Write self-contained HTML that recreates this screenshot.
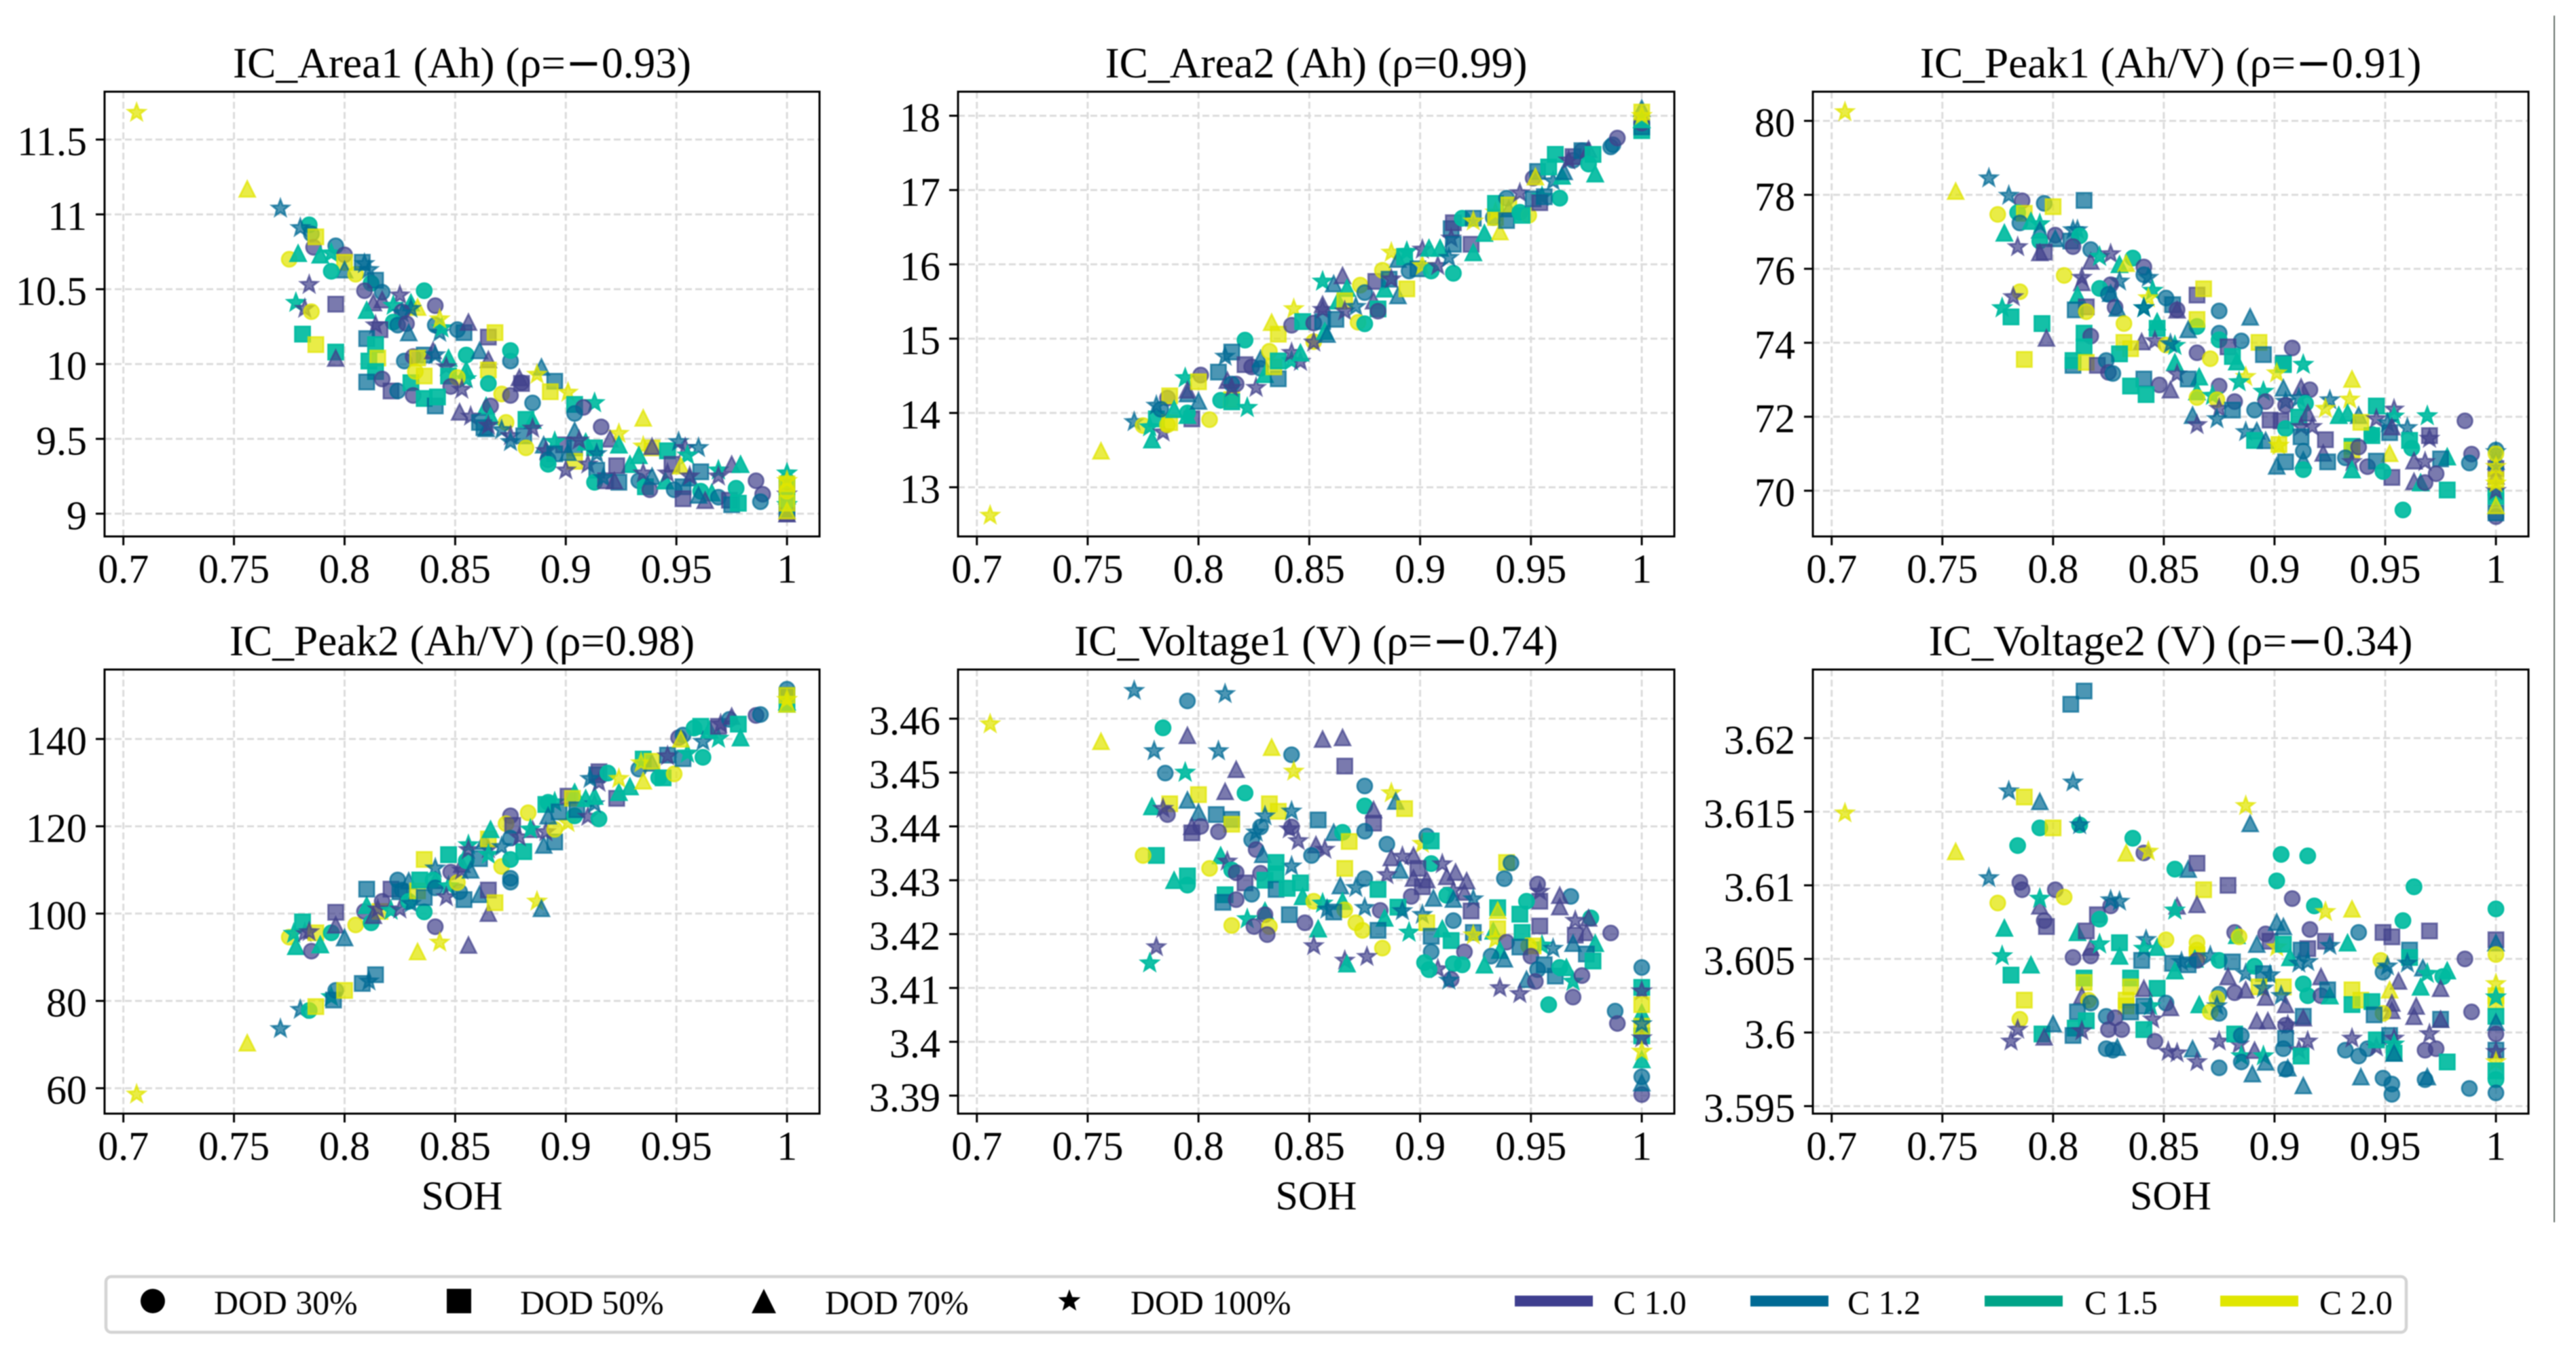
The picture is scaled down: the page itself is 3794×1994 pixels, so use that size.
<!DOCTYPE html>
<html lang="en">
<head>
<meta charset="utf-8">
<title>IC curve features vs SOH</title>
<style>
html,body{margin:0;padding:0;background:#fff;width:3794px;height:1994px;overflow:hidden}
svg{display:block;filter:blur(.8px)}
text{font-family:"Liberation Serif","Noto Serif CJK SC",serif;fill:#000}
.minus{font-family:"DejaVu Sans",sans-serif}
</style>
</head>
<body>
<svg id="fig" xmlns="http://www.w3.org/2000/svg" width="3794" height="1994" viewBox="0 0 3794 1994">
<rect x="0" y="0" width="3794" height="1994" fill="#fff"/>
<line x1="3762" y1="23" x2="3762" y2="1800" stroke="#3f4a44" stroke-width="1.6"/>
<g id="panels"></g>
<g font-size="63.4" text-anchor="middle">
<text x="680.5" y="114">IC_Area1 (Ah) (ρ=<tspan class="minus">−</tspan>0.93)</text>
<text x="1938.5" y="114">IC_Area2 (Ah) (ρ=0.99)</text>
<text x="3197" y="114">IC_Peak1 (Ah/V) (ρ=<tspan class="minus">−</tspan>0.91)</text>
<text x="680.5" y="965">IC_Peak2 (Ah/V) (ρ=0.98)</text>
<text x="1938.5" y="965">IC_Voltage1 (V) (ρ=<tspan class="minus">−</tspan>0.74)</text>
<text x="3197" y="965">IC_Voltage2 (V) (ρ=<tspan class="minus">−</tspan>0.34)</text>
</g>
<g font-size="60" text-anchor="middle">
<text x="680.5" y="1781">SOH</text>
<text x="1938.5" y="1781">SOH</text>
<text x="3197" y="1781">SOH</text>
</g>
<g>
<rect x="156" y="1880" width="3388" height="82" rx="8" fill="#fff" stroke="#d4d4d4" stroke-width="4.5"/>
<g id="legend-markers"></g>
<g font-size="49.8">
<text x="315" y="1935">DOD 30%</text>
<text x="766" y="1935">DOD 50%</text>
<text x="1215" y="1935">DOD 70%</text>
<text x="1665" y="1935">DOD 100%</text>
<text x="2376" y="1935">C 1.0</text>
<text x="2721" y="1935">C 1.2</text>
<text x="3070" y="1935">C 1.5</text>
<text x="3416" y="1935">C 2.0</text>
</g>
<rect x="2231" y="1908" width="115" height="16" fill="#3f3f8f"/>
<rect x="2578" y="1908" width="115" height="16" fill="#006a94"/>
<rect x="2923" y="1908" width="115" height="16" fill="#00a488"/>
<rect x="3270" y="1908" width="115" height="16" fill="#e0e600"/>
</g>
</svg>
<script>
// Encoding categories: index 2 of each row = C rate, index 3 = DOD
const rateLabels = ['C 1.0','C 1.2','C 1.5','C 2.0'];
const dodLabels = ['DOD 30%','DOD 50%','DOD 70%','DOD 100%'];
const xTickValues = [0.7,0.75,0.8,0.85,0.9,0.95,1];
const xTickLabels = ['0.7','0.75','0.8','0.85','0.9','0.95','1'];
const area1Ticks = [9,9.5,10,10.5,11,11.5];
const area1TickLabels = ['9','9.5','10','10.5','11','11.5'];
const area2Ticks = [13,14,15,16,17,18];
const area2TickLabels = ['13','14','15','16','17','18'];
const peak1Ticks = [70,72,74,76,78,80];
const peak1TickLabels = ['70','72','74','76','78','80'];
const peak2Ticks = [60,80,100,120,140];
const peak2TickLabels = ['60','80','100','120','140'];
const volt1Ticks = [3.39,3.4,3.41,3.42,3.43,3.44,3.45,3.46];
const volt1TickLabels = ['3.39','3.4','3.41','3.42','3.43','3.44','3.45','3.46'];
const volt2Ticks = [3.595,3.6,3.605,3.61,3.615,3.62];
const volt2TickLabels = ['3.595','3.6','3.605','3.61','3.615','3.62'];

// [SOH, feature value, rate index, DOD index]
const icArea1 = [
[.706,11.68,3,3],[.756,11.17,3,2],[.771,11.04,1,3],[.784,10.93,2,0],[.785,10.87,1,0],[.780,10.91,1,3],[.786,10.78,0,0],[.787,10.85,3,1],[.775,10.70,3,0],[.779,10.74,2,2],[.789,10.73,2,2],[.796,10.79,1,0],[.794,10.74,2,3],[.800,10.73,0,0],[.800,10.68,3,1],[.800,10.63,1,2],[.805,10.60,3,0],[.794,10.62,2,0],[.808,10.68,1,1],[.809,10.67,1,3],[.811,10.63,1,3],[.812,10.54,2,0],[.814,10.56,1,1],[.809,10.49,0,0],[.817,10.48,1,0],[.836,10.49,2,0],[.825,10.46,0,3],[.813,10.41,0,2],[.817,10.43,0,2],[.822,10.39,2,3],[.830,10.41,2,2],[.833,10.38,3,2],[.830,10.37,1,3],[.841,10.39,0,0],[.784,10.53,0,3],[.778,10.41,2,3],[.782,10.37,0,3],[.785,10.35,3,0],[.796,10.40,0,1],[.810,10.36,2,2],[.826,10.35,0,0],[.826,10.34,1,3],[.822,10.28,2,0],[.824,10.26,1,0],[.828,10.27,0,0],[.829,10.21,1,2],[.841,10.26,1,0],[.843,10.21,1,3],[.844,10.24,2,3],[.843,10.30,3,3],[.851,10.23,1,0],[.854,10.21,1,1],[.856,10.28,0,2],[.865,10.18,0,1],[.868,10.21,3,1],[.814,10.26,0,3],[.816,10.23,0,1],[.810,10.17,1,1],[.814,10.13,2,1],[.781,10.20,2,1],[.787,10.13,3,1],[.796,10.08,2,1],[.796,10.04,0,2],[.811,10.02,2,1],[.815,10.04,3,1],[.814,9.95,2,1],[.810,9.88,1,1],[.817,9.90,0,0],[.821,9.82,0,1],[.824,9.82,1,0],[.830,9.875,2,1],[.827,10.02,1,0],[.831,10.05,0,0],[.836,10.06,1,1],[.833,10.04,3,1],[.832,9.95,3,0],[.836,9.92,3,1],[.840,10.09,0,2],[.841,10.06,1,3],[.847,10.04,2,2],[.846,9.98,0,3],[.855,9.96,2,2],[.855,9.90,2,3],[.855,10.06,2,0],[.861,10.09,1,2],[.865,10.03,0,2],[.865,9.96,3,1],[.847,9.92,2,1],[.851,9.91,3,0],[.848,9.85,0,0],[.853,9.83,0,3],[.865,9.87,2,0],[.875,10.02,1,0],[.875,10.09,2,0],[.889,9.98,1,2],[.887,9.93,3,3],[.895,9.885,1,1],[.880,9.875,0,0],[.879,9.91,0,2],[.880,9.87,0,1],[.893,9.815,3,1],[.901,9.81,3,3],[.871,9.80,3,0],[.875,9.79,0,0],[.831,9.79,0,0],[.836,9.77,2,1],[.841,9.72,1,1],[.842,9.78,2,1],[.904,9.73,2,1],[.913,9.74,2,3],[.908,9.71,0,0],[.885,9.74,1,0],[.904,9.67,1,0],[.864,9.72,2,2],[.866,9.72,0,0],[.852,9.68,0,2],[.857,9.65,0,3],[.861,9.61,1,1],[.866,9.65,2,2],[.873,9.61,3,0],[.882,9.63,2,1],[.885,9.625,2,2],[.863,9.575,1,1],[.871,9.56,1,3],[.864,9.57,1,2],[.865,9.59,0,3],[.875,9.52,0,3],[.875,9.48,1,3],[.881,9.52,1,1],[.885,9.57,0,3],[.916,9.58,0,0],[.935,9.64,3,2],[.904,9.555,1,2],[.924,9.535,3,3],[.920,9.50,0,2],[.924,9.46,2,2],[.935,9.45,3,3],[.939,9.44,3,1],[.939,9.45,0,2],[.946,9.42,2,1],[.951,9.48,1,3],[.954,9.44,0,3],[.960,9.44,1,3],[.955,9.39,2,3],[.933,9.39,2,2],[.929,9.33,2,2],[.923,9.32,0,1],[.882,9.44,3,0],[.899,9.46,0,1],[.904,9.44,1,1],[.895,9.48,2,3],[.890,9.46,1,2],[.891,9.42,0,3],[.895,9.40,1,1],[.892,9.36,1,0],[.892,9.33,2,0],[.904,9.35,3,1],[.900,9.29,0,3],[.909,9.48,2,2],[.913,9.44,2,1],[.910,9.33,0,3],[.914,9.40,1,3],[.914,9.29,1,1],[.906,9.49,0,3],[.901,9.41,1,2],[.913,9.21,2,0],[.918,9.22,0,1],[.924,9.21,1,1],[.917,9.24,1,3],[.922,9.22,0,2],[.933,9.22,1,0],[.936,9.18,2,1],[.935,9.27,0,3],[.938,9.16,0,0],[.939,9.25,1,2],[.945,9.22,2,2],[.946,9.27,0,3],[.948,9.33,0,1],[.952,9.32,3,2],[.961,9.28,1,1],[.949,9.16,1,0],[.953,9.18,1,1],[.953,9.10,0,1],[.956,9.24,1,2],[.956,9.25,0,3],[.961,9.15,2,0],[.966,9.14,2,2],[.963,9.09,0,2],[.960,9.125,1,2],[.969,9.11,1,0],[.974,9.09,0,1],[.975,9.06,1,1],[.978,9.07,2,1],[.977,9.17,2,0],[.969,9.29,2,3],[.969,9.25,0,3],[.975,9.33,0,2],[.979,9.33,2,2],[.986,9.22,0,0],[.989,9.13,0,0],[.988,9.08,1,0],
[1,9.0,0,1],[1,9.0,0,2],[1,9.05,0,0],[1,9.13,0,3],[1,9.03,1,1],[1,9.1,1,0],[1,9.12,1,2],[1,9.18,1,1],[1,9.27,2,3],[1,9.22,2,0],[1,9.1,2,1],[1,9.06,2,3],[1,9.15,3,0],[1,9.07,3,1],[1,9.20,3,1],[1,9.22,3,3],[1,9.02,3,2]];

const icArea2 = [
[.706,12.62,3,3],[.756,13.49,3,2],[.771,13.88,1,3],[.775,13.83,3,0],[.778,13.81,2,3],[.779,13.64,2,2],[.784,13.74,0,3],[.781,13.92,2,1],[.781,14.10,1,3],[.786,14.20,0,0],[.787,14.23,3,1],[.787,13.87,3,1],[.786,13.84,3,0],[.783,14.05,1,0],[.789,14.05,2,2],[.797,13.92,0,1],[.805,13.91,3,0],[.794,14.47,2,3],[.795,14.26,1,2],[.795,14.31,0,2],[.795,14.0,2,0],[.795,13.97,2,2],[.800,14.16,1,2],[.801,14.51,0,0],[.800,14.42,3,1],[.810,14.17,2,0],[.809,14.55,1,1],[.815,14.18,3,1],[.815,14.15,2,1],[.822,14.07,2,3],[.813,14.44,0,2],[.817,14.39,0,0],[.815,14.39,1,0],[.815,14.34,0,3],[.826,14.34,0,3],[.821,14.98,2,0],[.812,14.76,1,3],[.815,14.82,1,1],[.821,14.65,0,1],[.824,14.62,0,0],[.828,14.73,1,2],[.828,14.60,1,0],[.830,14.52,2,2],[.836,14.46,1,1],[.834,14.62,3,1],[.832,14.83,3,0],[.836,14.70,2,1],[.842,14.70,2,3],[.833,15.22,3,2],[.836,15.06,3,1],[.842,15.18,0,0],[.842,14.81,0,3],[.846,14.69,0,3],[.846,14.81,2,2],[.852,14.96,3,0],[.852,14.95,0,3],[.843,15.40,3,3],[.847,15.23,2,1],[.852,15.21,0,0],[.856,15.23,1,1],[.857,15.10,2,2],[.858,15.06,1,2],[.856,15.39,0,3],[.856,15.46,0,2],[.862,15.26,1,1],[.856,15.77,2,3],[.861,15.74,1,2],[.865,15.85,0,2],[.867,15.68,2,2],[.863,15.51,2,2],[.866,15.51,3,1],[.866,15.37,0,3],[.871,15.43,1,3],[.872,15.22,3,0],[.875,15.20,2,0],[.873,15.72,3,0],[.875,15.62,1,0],[.879,15.51,0,2],[.881,15.40,2,1],[.881,15.37,0,0],[.880,15.77,0,1],[.883,15.92,3,0],[.884,15.67,2,2],[.886,15.80,1,1],[.887,15.80,0,3],[.890,15.58,1,2],[.894,15.67,3,1],[.887,16.16,3,3],[.894,16.17,2,3],[.890,16.07,1,2],[.893,16.1,2,1],[.895,15.91,1,0],[.899,15.94,1,1],[.901,15.98,3,3],[.901,16.2,0,3],[.905,15.91,2,0],[.915,15.88,2,0],[.908,15.98,0,3],[.904,16.22,2,2],[.909,16.22,2,2],[.913,16.09,1,3],[.914,16.48,1,1],[.915,16.56,0,1],[.914,16.35,0,3],[.915,16.27,1,1],[.919,16.62,2,0],[.924,16.62,1,1],[.923,16.27,0,1],[.924,16.16,2,2],[.924,16.58,3,3],[.929,16.42,2,2],[.936,16.44,3,2],[.933,16.63,1,0],[.934,16.63,3,1],[.934,16.70,3,3],[.934,16.82,2,1],[.939,16.89,1,0],[.940,16.75,1,2],[.940,16.80,3,1],[.939,16.59,1,1],[.945,16.70,2,0],[.945,16.96,0,3],[.949,16.66,3,0],[.946,16.66,2,1],[.951,16.88,1,1],[.951,17.16,0,0],[.953,17.25,1,1],[.952,17.18,3,2],[.960,17.12,1,3],[.955,16.91,2,3],[.954,16.83,0,1],[.963,16.89,2,0],[.956,16.91,1,1],[.961,17.48,2,1],[.958,17.31,2,1],[.964,17.19,2,2],[.965,17.25,1,2],[.969,17.40,1,0],[.967,17.40,0,3],[.969,17.45,0,1],[.973,17.53,0,0],[.973,17.53,1,1],[.976,17.55,0,2],[.978,17.48,2,1],[.976,17.35,2,0],[.979,17.22,2,2],[.986,17.58,1,0],[.987,17.61,1,0],[.989,17.70,0,0],
[1,17.8,2,1],[1,17.85,1,1],[1,17.9,0,0],[1,18.1,1,2],[1,17.95,2,2],[1,18.05,3,1],[1,18.0,3,3]];

const icPeak1 = [
[.706,80.24,3,3],[.756,78.10,3,2],[.771,78.45,1,3],[.780,77.98,1,3],[.786,77.84,0,0],[.796,77.77,1,0],[.800,77.68,3,1],[.814,77.85,1,1],[.775,77.47,3,0],[.784,77.52,2,0],[.787,77.50,3,1],[.785,77.24,1,0],[.790,77.29,2,2],[.794,77.21,2,3],[.794,77.05,1,2],[.778,76.97,2,2],[.784,76.59,0,3],[.794,76.75,2,0],[.801,76.91,0,0],[.801,76.82,1,2],[.796,76.45,0,1],[.794,76.44,0,2],[.808,76.75,1,1],[.809,77.05,1,3],[.811,77.05,1,3],[.812,76.89,2,0],[.809,76.60,0,0],[.817,76.52,1,0],[.817,76.21,0,2],[.821,76.33,2,3],[.826,76.40,0,3],[.836,76.29,2,0],[.830,76.12,2,2],[.833,76.15,3,2],[.841,76.05,0,0],[.841,75.84,1,0],[.843,75.76,1,3],[.845,75.41,2,3],[.805,75.82,3,0],[.813,75.76,0,3],[.813,75.63,0,2],[.830,75.66,1,3],[.826,75.57,0,0],[.821,75.47,2,0],[.825,75.31,1,0],[.826,75.34,1,2],[.785,75.38,3,0],[.782,75.24,0,3],[.777,74.94,2,3],[.781,74.70,2,1],[.795,74.52,2,1],[.797,74.13,0,2],[.811,75.29,2,2],[.815,74.97,0,1],[.810,74.89,1,1],[.815,74.84,3,0],[.828,74.96,0,0],[.829,74.94,1,2],[.843,75.21,3,3],[.841,74.94,2,3],[.841,74.94,1,3],[.851,75.21,1,0],[.854,75.03,1,1],[.856,74.89,0,2],[.856,74.89,0,0],[.865,75.29,0,1],[.868,75.46,3,1],[.865,74.44,2,0],[.865,74.63,3,1],[.875,74.86,1,0],[.889,74.70,1,2],[.861,74.36,1,2],[.847,74.57,2,2],[.847,74.39,2,1],[.832,74.52,3,0],[.875,74.26,1,0],[.814,74.26,2,1],[.817,74.18,0,0],[.875,74.08,2,0],[.814,73.89,2,1],[.840,74.03,0,2],[.846,74.05,0,3],[.832,74.01,3,1],[.835,73.84,3,1],[.851,73.94,3,0],[.855,73.92,2,3],[.853,73.97,1,3],[.885,74.05,1,0],[.893,74.01,3,1],[.908,73.86,0,0],[.879,73.89,0,1],[.865,73.73,0,0],[.871,73.57,3,0],[.895,73.68,1,1],[.904,73.45,1,1],[.904,73.41,2,1],[.913,73.41,2,3],[.881,73.63,2,1],[.883,73.49,2,2],[.787,73.55,3,1],[.855,73.47,2,2],[.830,73.70,2,1],[.809,73.39,1,1],[.809,73.52,2,1],[.815,73.47,3,1],[.820,73.39,0,1],[.824,73.52,1,0],[.825,73.20,0,0],[.827,73.17,1,0],[.856,73.15,0,3],[.866,73.08,2,2],[.887,73.08,3,3],[.884,72.94,2,3],[.901,73.18,3,3],[.935,73.02,3,2],[.841,73.02,1,1],[.835,72.83,2,1],[.861,73.02,1,1],[.848,72.86,0,0],[.875,72.83,0,0],[.853,72.73,0,2],[.842,72.60,2,1],[.865,72.68,2,2],[.865,72.52,3,0],[.872,72.57,2,3],[.874,72.46,3,0],[.875,72.22,0,3],[.882,72.41,0,0],[.895,72.68,2,3],[.904,72.78,1,2],[.912,72.80,0,2],[.916,72.73,0,0],[.934,72.47,3,3],[.925,72.45,1,3],[.923,72.22,3,3],[.896,72.41,0,0],[.891,72.18,1,0],[.881,72.18,1,1],[.905,72.41,1,3],[.905,72.31,0,0],[.911,72.5,1,3],[.914,72.36,2,0],[.954,72.20,0,3],[.946,72.29,2,1],[.986,71.89,0,0],[.969,72.02,2,3],[.929,72.04,2,2],[.933,72.10,2,2],[.938,72.04,1,2],[.954,72.01,2,3],[.863,72.04,1,2],[.865,71.78,0,3],[.874,71.94,1,3],[.898,71.91,0,1],[.903,71.89,0,1],[.905,71.68,2,0],[.911,71.99,2,1],[.915,72.10,0,2],[.917,71.73,0,3],[.912,71.73,0,3],[.887,71.59,1,3],[.892,71.62,1,2],[.891,71.36,2,1],[.896,71.36,1,2],[.923,71.38,0,1],[.912,71.46,1,1],[.944,71.52,2,0],[.944,71.49,2,1],[.939,71.85,3,1],[.946,71.94,0,3],[.951,71.83,1,3],[.952,71.57,1,1],[.960,71.70,1,3],[.953,71.73,0,2],[.970,71.41,0,3],[.970,71.49,0,1],[.902,71.25,3,1],[.902,71.22,3,3],[.913,71.07,1,0],[.922,71.02,0,2],[.935,71.20,2,1],[.935,71.10,3,1],[.938,71.18,0,0],[.952,71.01,3,2],[.962,71.15,2,0],[.961,71.36,2,1],[.989,70.99,0,0],[.988,70.75,1,0],[.978,70.92,2,2],[.975,70.86,1,1],[.968,70.78,0,3],[.932,70.89,1,0],[.935,70.78,0,3],[.942,70.65,0,0],[.924,70.78,1,1],[.913,70.83,1,2],[.913,70.57,2,0],[.905,70.78,1,1],[.901,70.67,1,2],[.935,70.57,2,2],[.946,70.80,1,1],[.953,70.36,0,1],[.949,70.52,2,0],[.963,70.81,0,2],[.963,70.25,0,2],[.966,70.22,2,2],[.968,70.22,0,0],[.973,70.46,0,0],[.978,70.02,2,1],[.958,69.48,2,0],
[1,69.3,0,0],[1,69.4,1,1],[1,69.85,2,1],[1,69.9,2,0],[1,70.0,0,3],[1,70.4,0,2],[1,70.6,0,1],[1,70.8,1,2],[1,71.1,1,0],[1,71.05,1,3],[1,71.0,3,0],[1,70.3,3,1],[1,70.65,3,3],[1,70.2,3,3],[1,69.6,3,2]];

const icPeak2 = [
[.706,58.6,3,3],[.756,70.4,3,2],[.771,73.6,1,3],[.780,78.0,1,3],[.784,77.8,2,0],[.787,78.7,3,1],[.794,80.9,2,3],[.795,80.2,1,1],[.796,82.4,1,0],[.800,82.4,3,1],[.808,84.0,1,1],[.811,84.5,1,3],[.814,86.0,1,1],[.775,94.6,3,0],[.778,92.5,2,2],[.777,95.4,2,3],[.782,95.6,0,3],[.781,98.1,2,1],[.787,95.6,3,1],[.784,95.8,0,3],[.785,91.4,0,0],[.794,95.6,2,0],[.796,100.3,0,1],[.796,97.4,0,2],[.789,92.9,2,2],[.800,94.5,1,2],[.805,97.4,3,0],[.809,100.5,0,0],[.812,97.9,2,0],[.810,101.9,2,2],[.810,105.6,1,1],[.816,100.5,3,1],[.813,99.6,0,2],[.815,101.0,0,3],[.817,102.8,0,0],[.821,100.7,2,3],[.821,105.6,0,1],[.824,107.7,1,0],[.825,105.0,1,1],[.826,105.4,1,0],[.825,101.0,0,3],[.829,102.8,2,0],[.830,102.3,1,3],[.829,107.5,1,2],[.833,91.3,3,2],[.833,105.2,3,1],[.834,107.7,2,1],[.836,112.4,3,1],[.836,100.4,2,0],[.836,103.7,1,1],[.841,97.0,0,0],[.843,93.4,3,3],[.856,92.8,0,2],[.841,110.4,1,3],[.841,107.6,1,2],[.840,107.7,2,0],[.841,105.9,1,0],[.847,106.3,2,3],[.846,103.8,0,3],[.852,105.0,1,0],[.854,103.2,1,1],[.861,104.4,1,2],[.865,105.4,0,1],[.865,100.1,0,2],[.868,102.5,3,1],[.887,102.8,3,3],[.889,101.2,1,2],[.848,109.5,0,0],[.851,107.1,3,0],[.853,109.9,0,3],[.853,111.3,0,2],[.855,112.1,2,0],[.857,110.0,1,2],[.847,113.5,2,1],[.856,115.7,2,3],[.856,114.6,0,3],[.861,112.6,1,1],[.865,114.8,0,3],[.863,116.6,1,2],[.865,117.1,3,1],[.866,119.3,2,2],[.865,113.5,2,3],[.871,115.3,1,3],[.871,110.8,3,0],[.875,112.4,2,0],[.875,108.1,1,0],[.875,107.2,1,0],[.881,114.2,2,1],[.875,122.4,0,0],[.873,120.6,3,0],[.876,120.2,0,1],[.875,117.3,1,0],[.879,117.5,0,3],[.883,123.1,3,0],[.885,119.3,0,2],[.884,119.3,2,3],[.890,115.7,1,2],[.895,116.4,1,1],[.891,118.7,0,3],[.895,119.3,3,0],[.891,125.0,2,1],[.892,125.5,2,0],[.895,125.5,2,3],[.901,120.8,3,3],[.892,122.4,1,2],[.897,123.3,1,1],[.901,126.9,0,1],[.904,127.8,2,2],[.903,126.4,3,1],[.904,122.4,2,0],[.905,123.8,1,1],[.910,122.2,0,3],[.915,121.7,2,0],[.909,126.4,2,2],[.913,125.1,1,3],[.913,126.9,2,2],[.914,131.8,1,1],[.915,132.5,0,1],[.915,130.0,0,3],[.911,130.9,1,3],[.919,132.2,2,0],[.923,126.4,0,1],[.924,127.8,2,2],[.924,130.9,3,3],[.929,129.1,2,2],[.933,133.1,1,0],[.935,130.4,3,2],[.935,135.4,2,1],[.934,134.5,3,3],[.939,134.5,1,2],[.939,134.9,3,1],[.942,131.1,2,0],[.944,131.1,2,1],[.949,132.0,3,0],[.946,136.3,1,1],[.946,136.1,0,3],[.953,135.5,1,1],[.955,136.7,2,3],[.962,135.8,2,0],[.951,140.3,0,0],[.953,140.9,1,0],[.952,140,3,2],[.961,142.9,2,1],[.958,142.5,2,0],[.962,139.4,1,3],[.965,142.1,2,2],[.969,140.1,2,3],[.969,142.9,0,1],[.970,143.4,0,3],[.974,144.5,1,0],[.975,145.2,0,2],[.978,143.4,2,1],[.979,140.3,2,2],[.986,145.4,0,0],[.988,145.6,1,0],
[1,151.4,1,0],[1,150,0,0],[1,150,1,1],[1,148,2,1],[1,148.5,2,2],[1,150,3,1],[1,149,3,3],[1,148,3,2]];

const icVoltage1 = [
[.706,3.459,3,3],[.756,3.4558,3,2],[.771,3.4652,1,3],[.795,3.4633,1,0],[.812,3.4646,1,3],[.784,3.4583,2,0],[.795,3.4569,0,2],[.780,3.454,1,3],[.809,3.454,1,3],[.785,3.4499,1,0],[.794,3.45,2,3],[.817,3.4506,0,2],[.833,3.4547,3,2],[.842,3.4533,1,0],[.843,3.4502,3,3],[.856,3.4562,0,2],[.865,3.4565,0,2],[.866,3.4512,0,1],[.875,3.4475,1,0],[.887,3.4462,3,3],[.889,3.4447,1,2],[.875,3.4438,2,0],[.893,3.4433,3,1],[.879,3.4431,0,2],[.879,3.4406,0,1],[.812,3.4465,0,2],[.821,3.4462,2,0],[.800,3.4459,3,1],[.795,3.4449,1,2],[.787,3.4442,3,1],[.779,3.4437,2,2],[.784,3.4433,0,3],[.786,3.4422,0,0],[.800,3.4426,1,2],[.808,3.4422,1,1],[.815,3.4413,1,1],[.815,3.4404,3,1],[.832,3.4442,3,1],[.836,3.4428,3,1],[.830,3.4419,1,3],[.842,3.4428,1,3],[.854,3.4412,1,1],[.801,3.44,0,0],[.797,3.44,0,2],[.797,3.4388,0,1],[.809,3.439,0,0],[.828,3.4399,1,0],[.826,3.4389,1,3],[.824,3.4375,1,0],[.842,3.4399,0,0],[.841,3.4395,0,3],[.845,3.4373,0,3],[.861,3.4389,1,2],[.865,3.4389,2,0],[.868,3.4372,3,1],[.875,3.4391,1,0],[.885,3.4367,1,0],[.853,3.4366,0,2],[.857,3.4357,0,3],[.851,3.4346,1,0],[.826,3.4357,0,0],[.829,3.4348,1,2],[.901,3.4368,3,3],[.903,3.4382,1,0],[.905,3.4373,2,1],[.905,3.4331,2,0],[.939,3.4333,3,1],[.941,3.4332,1,0],[.781,3.4346,2,1],[.775,3.4346,3,0],[.810,3.4346,2,2],[.813,3.4335,0,3],[.805,3.4322,3,0],[.842,3.4326,1,3],[.835,3.4333,2,1],[.866,3.4322,3,1],[.887,3.4342,0,2],[.892,3.4344,0,3],[.897,3.4346,0,2],[.910,3.433,0,3],[.815,3.4319,2,0],[.817,3.4314,0,0],[.828,3.4313,0,0],[.835,3.4312,2,1],[.891,3.4319,1,2],[.885,3.431,0,3],[.899,3.4322,0,1],[.897,3.4304,0,2],[.912,3.4307,0,2],[.916,3.4315,0,2],[.921,3.4299,0,2],[.795,3.4308,2,1],[.789,3.43,2,2],[.795,3.4291,2,0],[.875,3.4303,1,0],[.903,3.4301,0,2],[.901,3.4288,0,1],[.938,3.4303,1,0],[.830,3.43,2,1],[.821,3.4295,0,1],[.835,3.4283,1,1],[.840,3.4285,2,1],[.846,3.4295,2,1],[.864,3.429,1,2],[.881,3.4283,2,1],[.953,3.4293,0,0],[.954,3.4279,0,3],[.920,3.4278,0,2],[.871,3.4286,1,3],[.812,3.4273,2,1],[.811,3.4259,1,1],[.817,3.4264,0,0],[.824,3.4274,1,0],[.847,3.427,2,2],[.906,3.4267,1,2],[.896,3.427,0,0],[.924,3.4265,1,3],[.915,3.4281,0,3],[.912,3.4272,2,0],[.915,3.4265,1,2],[.968,3.427,1,0],[.963,3.4272,0,2],[.963,3.4251,0,2],[.954,3.4261,0,1],[.948,3.4261,2,0],[.852,3.4261,3,0],[.856,3.4257,2,3],[.865,3.4261,2,2],[.866,3.4245,3,0],[.875,3.4249,1,3],[.858,3.4246,1,3],[.861,3.4241,1,1],[.830,3.4243,2,2],[.830,3.4236,0,0],[.841,3.4236,1,1],[.890,3.425,2,1],[.882,3.4244,0,0],[.892,3.4243,1,3],[.923,3.4243,0,1],[.935,3.4249,2,1],[.935,3.4244,3,2],[.945,3.4237,2,1],[.977,3.423,2,0],[.976,3.423,0,2],[.970,3.4225,0,3],[.884,3.423,2,2],[.901,3.4236,1,3],[.871,3.4221,3,0],[.874,3.4207,3,0],[.881,3.4207,1,1],[.848,3.4221,0,0],[.822,3.4228,2,3],[.815,3.4216,3,0],[.825,3.4214,0,0],[.832,3.4214,3,0],[.831,3.4199,0,0],[.854,3.421,2,2],[.895,3.4203,2,3],[.903,3.4221,3,1],[.905,3.4196,1,1],[.910,3.421,2,2],[.914,3.4188,2,1],[.915,3.4225,1,0],[.924,3.4203,1,1],[.924,3.4198,3,3],[.933,3.4206,2,2],[.935,3.421,3,1],[.934,3.419,3,3],[.939,3.4185,0,0],[.946,3.4203,2,1],[.954,3.4215,0,1],[.986,3.4202,0,0],[.970,3.4198,0,1],[.975,3.4203,0,2],[.969,3.4183,1,2],[.979,3.4183,2,2],[.955,3.4179,2,3],[.960,3.4173,1,3],[.949,3.4178,3,0],[.951,3.4178,3,1],[.945,3.4176,1,1],[.908,3.4135,0,3],[.936,3.417,2,2],[.920,3.4167,0,0],[.905,3.4167,1,0],[.950,3.4159,0,0],[.975,3.4163,1,1],[.978,3.415,2,1],[.932,3.4159,1,0],[.938,3.4154,1,2],[.929,3.4143,2,2],[.883,3.4174,3,0],[.852,3.4178,0,3],[.781,3.4176,0,3],[.778,3.4146,2,3],[.876,3.4158,0,3],[.866,3.4151,0,3],[.867,3.4145,2,2],[.902,3.4147,2,0],[.904,3.4134,2,0],[.915,3.4145,2,0],[.919,3.4143,2,0],[.953,3.4134,1,0],[.956,3.4143,1,1],[.961,3.4122,1,1],[.966,3.4138,2,2],[.963,3.4138,2,0],[.948,3.4116,1,2],[.952,3.4112,0,0],[.969,3.4112,2,3],[.973,3.4123,0,0],[.914,3.4116,0,0],[.913,3.4114,1,3],[.936,3.41,0,3],[.945,3.4089,0,3],[.969,3.4083,0,0],[.958,3.4069,2,0],[.988,3.4057,1,0],[.989,3.4034,0,0],
[1,3.3902,0,0],[1,3.3924,1,2],[1,3.3935,1,0],[1,3.3967,2,2],[1,3.4138,1,0],[1,3.4101,2,1],[1,3.4011,2,1],[1,3.4094,0,3],[1,3.4007,0,3],[1,3.4054,2,2],[1,3.4069,3,1],[1,3.4029,3,1],[1,3.4033,1,3],[1,3.3982,3,3]];

const icVoltage2 = [
[.706,3.6149,3,3],[.756,3.6123,3,2],[.771,3.6105,1,3],[.780,3.6164,1,3],[.787,3.6160,3,1],[.794,3.6157,1,2],[.808,3.6223,1,1],[.814,3.6232,1,1],[.809,3.6170,1,3],[.794,3.6139,2,0],[.800,3.6139,3,1],[.812,3.6141,2,0],[.812,3.6141,1,3],[.784,3.6127,2,0],[.836,3.6132,2,0],[.833,3.6122,3,2],[.841,3.6122,0,0],[.843,3.6123,3,3],[.887,3.6154,3,3],[.889,3.6142,1,2],[.903,3.6121,2,0],[.915,3.6120,2,0],[.855,3.6111,2,0],[.861,3.6111,1,2],[.865,3.6115,0,1],[.879,3.6100,0,1],[.868,3.6097,3,1],[.901,3.6103,2,0],[.963,3.6099,2,0],[.785,3.6102,0,0],[.786,3.6097,0,0],[.801,3.6097,0,0],[.805,3.6092,3,0],[.775,3.6088,3,0],[.794,3.6086,0,2],[.794,3.6091,2,3],[.778,3.6071,2,2],[.777,3.6052,2,3],[.790,3.6046,2,2],[.781,3.6039,2,1],[.796,3.6076,0,0],[.797,3.6072,0,1],[.809,3.6051,0,0],[.817,3.6052,0,0],[.817,3.6058,0,2],[.811,3.6068,2,2],[.815,3.6069,0,1],[.820,3.6080,0,1],[.821,3.6077,2,0],[.826,3.6086,0,0],[.826,3.6090,1,3],[.830,3.6089,1,3],[.821,3.6060,2,3],[.842,3.6063,1,3],[.841,3.6057,2,3],[.830,3.6061,2,1],[.847,3.6058,2,2],[.851,3.6063,3,0],[.830,3.6052,2,2],[.840,3.6049,1,1],[.856,3.6086,0,2],[.855,3.6083,2,3],[.865,3.6087,0,2],[.908,3.6091,0,0],[.918,3.6086,2,0],[.923,3.6082,3,3],[.935,3.6084,3,2],[.958,3.6076,2,0],[.882,3.6068,0,0],[.883,3.6066,2,2],[.884,3.6065,3,0],[.896,3.6067,0,0],[.898,3.6062,0,1],[.901,3.6058,3,3],[.904,3.6060,2,1],[.901,3.6075,1,2],[.904,3.6072,1,2],[.916,3.6070,0,0],[.923,3.6062,0,1],[.915,3.6057,0,1],[.912,3.6056,1,1],[.925,3.6059,1,3],[.933,3.6061,2,2],[.938,3.6068,1,0],[.949,3.6068,0,1],[.953,3.6065,0,1],[.970,3.6069,0,1],[.892,3.6060,1,2],[.961,3.6056,1,1],[.865,3.6061,3,0],[.865,3.6056,3,0],[.865,3.6053,3,1],[.864,3.6050,2,2],[.865,3.6049,0,0],[.871,3.6052,1,3],[.875,3.6049,2,0],[.881,3.6048,1,1],[.854,3.6047,1,1],[.861,3.6046,1,1],[.858,3.6048,1,3],[.855,3.6042,2,2],[.887,3.6040,1,3],[.891,3.6045,2,0],[.895,3.6040,1,1],[.898,3.6039,1,3],[.907,3.6051,2,2],[.911,3.6047,1,3],[.915,3.6048,1,3],[.948,3.6049,3,0],[.951,3.6045,1,3],[.949,3.6041,1,0],[.961,3.6051,2,1],[.960,3.6047,1,3],[.967,3.6044,1,2],[.986,3.6050,0,0],[.969,3.6040,2,3],[.978,3.6042,2,2],[.976,3.6038,2,0],[.879,3.6038,0,2],[.921,3.6038,0,2],[.956,3.6035,0,2],[.966,3.6031,2,2],[.975,3.6030,0,2],[.913,3.6033,2,0],[.893,3.6031,3,1],[.895,3.6030,1,3],[.904,3.6031,3,1],[.903,3.6025,1,3],[.814,3.6037,2,1],[.814,3.6034,3,1],[.835,3.6037,2,1],[.835,3.6031,3,1],[.847,3.6030,2,1],[.841,3.6030,0,2],[.813,3.6025,0,2],[.816,3.6022,3,0],[.817,3.6020,1,0],[.787,3.6022,3,1],[.833,3.6022,3,1],[.833,3.6018,3,1],[.851,3.6020,1,0],[.844,3.6018,2,3],[.841,3.6018,1,1],[.853,3.6017,0,2],[.866,3.6019,2,2],[.875,3.6026,1,0],[.874,3.6023,3,0],[.874,3.6018,1,3],[.871,3.6014,3,0],[.875,3.6013,1,0],[.882,3.6027,0,0],[.887,3.6029,0,2],[.896,3.6024,0,2],[.905,3.6019,0,2],[.915,3.6025,2,0],[.921,3.6025,0,0],[.925,3.6025,2,2],[.924,3.6029,1,1],[.935,3.6029,3,1],[.935,3.6019,2,1],[.939,3.6022,3,1],[.944,3.6021,2,1],[.952,3.6029,3,2],[.953,3.6020,0,2],[.953,3.6015,0,2],[.949,3.6013,3,0],[.945,3.6012,1,1],[.964,3.6018,0,2],[.963,3.6011,0,2],[.989,3.6014,0,0],[.975,3.6009,1,1],[.975,3.6009,0,2],[.785,3.6009,3,0],[.784,3.6002,0,3],[.781,3.5994,0,3],[.795,3.5999,2,1],[.796,3.5997,0,2],[.800,3.6006,1,2],[.811,3.6014,1,1],[.815,3.6008,2,1],[.810,3.6003,2,1],[.809,3.5998,1,1],[.813,3.6001,0,3],[.824,3.6011,1,0],[.828,3.6010,0,0],[.835,3.6014,1,1],[.825,3.6002,0,0],[.831,3.6002,0,0],[.845,3.6009,0,3],[.841,3.6002,2,1],[.824,3.5989,1,0],[.827,3.5988,1,0],[.829,3.5990,1,2],[.846,3.5994,0,0],[.852,3.5987,0,3],[.856,3.5986,0,3],[.863,3.5989,1,2],[.865,3.5980,0,3],[.875,3.5994,0,3],[.875,3.5976,1,0],[.884,3.5992,0,3],[.882,3.5999,2,1],[.885,3.5998,1,0],[.885,3.5984,2,3],[.885,3.5980,1,0],[.891,3.5988,0,2],[.895,3.5984,2,3],[.896,3.5980,1,2],[.890,3.5972,1,2],[.892,3.6008,0,2],[.897,3.6008,0,2],[.905,3.6005,0,0],[.906,3.6005,0,3],[.904,3.5989,1,0],[.905,3.5996,1,1],[.905,3.5975,1,0],[.906,3.5976,1,2],[.913,3.6011,1,1],[.913,3.6010,0,2],[.915,3.5994,0,3],[.911,3.5988,0,3],[.912,3.5984,2,1],[.913,3.5964,1,2],[.932,3.5988,1,0],[.938,3.5984,1,0],[.939,3.5970,1,2],[.942,3.5989,1,0],[.935,3.5996,0,3],[.946,3.5990,0,3],[.946,3.5995,2,1],[.952,3.5998,1,1],[.954,3.5996,0,3],[.954,3.5992,2,3],[.954,3.5986,2,1],[.954,3.5986,1,2],[.949,3.5969,1,0],[.953,3.5965,1,0],[.953,3.5958,1,0],[.970,3.5999,0,3],[.968,3.5988,0,0],[.973,3.5989,0,0],[.978,3.5980,2,1],[.968,3.5968,1,0],[.969,3.5970,1,2],[.988,3.5962,1,0],
[1,3.6084,2,0],[1,3.6063,0,1],[1,3.6061,1,2],[1,3.6053,3,0],[1,3.6033,3,3],[1,3.6025,3,1],[1,3.6021,3,1],[1,3.6024,2,3],[1,3.6011,2,1],[1,3.6007,1,2],[1,3.5999,0,0],[1,3.5988,1,1],[1,3.5987,0,3],[1,3.598,3,3],[1,3.5974,2,1],[1,3.5968,2,0],[1,3.5959,1,0]];

const NS = 'http://www.w3.org/2000/svg';
const rateColors = ['#41418c','#006994','#00bba0','#e0e400'];
const rateAlpha = [.7,.7,.92,.72];
const panelsRoot = document.getElementById('panels');

function xScale(box, v){ return box.left + (v - box.xMin) / (box.xMax - box.xMin) * (box.right - box.left); }
function yScale(box, v){ return box.bottom - (v - box.yMin) / (box.yMax - box.yMin) * (box.bottom - box.top); }

function starPoints(cx, cy, R, ratio){
  const pts = [];
  for (let i = 0; i < 10; i++){
    const r = i % 2 ? R * ratio : R;
    const a = -Math.PI / 2 + i * Math.PI / 5;
    pts.push((cx + r * Math.cos(a)).toFixed(1) + ',' + (cy + r * Math.sin(a)).toFixed(1));
  }
  return pts.join(' ');
}

function markerShape(kind, cx, cy, s){
  let el;
  if (kind === 0){
    el = document.createElementNS(NS, 'circle');
    el.setAttribute('cx', cx);
    el.setAttribute('cy', cy);
    el.setAttribute('r', s);
  } else if (kind === 1){
    el = document.createElementNS(NS, 'rect');
    el.setAttribute('x', cx - s);
    el.setAttribute('y', cy - s);
    el.setAttribute('width', 2 * s);
    el.setAttribute('height', 2 * s);
  } else if (kind === 2){
    el = document.createElementNS(NS, 'polygon');
    el.setAttribute('points', cx + ',' + (cy - s) + ' ' + (cx + s) + ',' + (cy + s) + ' ' + (cx - s) + ',' + (cy + s));
  } else {
    el = document.createElementNS(NS, 'polygon');
    el.setAttribute('points', starPoints(cx, cy, s * 1.2, .42));
  }
  return el;
}

function drawPanel(name, box, yTicks, yLabels, rows){
  const g = document.createElementNS(NS, 'g');
  
  
  panelsRoot.appendChild(g);

  xTickValues.forEach(function(v, i){
    const x = xScale(box, v);
    const grid = document.createElementNS(NS, 'line');
    
    
    grid.setAttribute('x1', x);
    grid.setAttribute('x2', x);
    grid.setAttribute('y1', box.top);
    grid.setAttribute('y2', box.bottom);
    grid.setAttribute('stroke', '#dcdcdc');
    grid.setAttribute('stroke-width', 3);
    grid.setAttribute('stroke-dasharray', '10 5');
    g.appendChild(grid);
    const tick = document.createElementNS(NS, 'line');
    
    
    tick.setAttribute('x1', x);
    tick.setAttribute('x2', x);
    tick.setAttribute('y1', box.bottom);
    tick.setAttribute('y2', box.bottom + 13);
    tick.setAttribute('stroke', '#000');
    tick.setAttribute('stroke-width', 3);
    g.appendChild(tick);
    const label = document.createElementNS(NS, 'text');
    
    
    label.setAttribute('x', x);
    label.setAttribute('y', box.bottom + 68);
    label.setAttribute('font-size', 60);
    label.setAttribute('text-anchor', 'middle');
    label.textContent = xTickLabels[i];
    g.appendChild(label);
  });

  yTicks.forEach(function(v, i){
    const y = yScale(box, v);
    const grid = document.createElementNS(NS, 'line');
    
    
    grid.setAttribute('x1', box.left);
    grid.setAttribute('x2', box.right);
    grid.setAttribute('y1', y);
    grid.setAttribute('y2', y);
    grid.setAttribute('stroke', '#dcdcdc');
    grid.setAttribute('stroke-width', 3);
    grid.setAttribute('stroke-dasharray', '10 5');
    g.appendChild(grid);
    const tick = document.createElementNS(NS, 'line');
    
    
    tick.setAttribute('x1', box.left - 13);
    tick.setAttribute('x2', box.left);
    tick.setAttribute('y1', y);
    tick.setAttribute('y2', y);
    tick.setAttribute('stroke', '#000');
    tick.setAttribute('stroke-width', 3);
    g.appendChild(tick);
    const label = document.createElementNS(NS, 'text');
    
    
    label.setAttribute('x', box.left - 26);
    label.setAttribute('y', y + 23);
    label.setAttribute('font-size', 60);
    label.setAttribute('text-anchor', 'end');
    label.textContent = yLabels[i];
    g.appendChild(label);
  });

  rows.forEach(function(row){
    const mark = markerShape(row[3], xScale(box, row[0]), yScale(box, row[1]), row[3] === 2 ? 11.5 : 11);
    
    
    mark.setAttribute('fill', rateColors[row[2]]);
    mark.setAttribute('stroke', rateColors[row[2]]);
    mark.setAttribute('fill-opacity', rateAlpha[row[2]]);
    mark.setAttribute('stroke-opacity', rateAlpha[row[2]]);
    mark.setAttribute('stroke-width', 2.8);
    g.appendChild(mark);
  });

  const frame = document.createElementNS(NS, 'rect');
  
  
  frame.setAttribute('x', box.left);
  frame.setAttribute('y', box.top);
  frame.setAttribute('width', box.right - box.left);
  frame.setAttribute('height', box.bottom - box.top);
  frame.setAttribute('fill', 'none');
  frame.setAttribute('stroke', '#000');
  frame.setAttribute('stroke-width', 3);
  g.appendChild(frame);
}

const xMin = 0.6915, xMax = 1.0147;
drawPanel('ic-area1', {left:154,right:1207,top:135,bottom:790,xMin:xMin,xMax:xMax,yMin:8.848,yMax:11.82}, area1Ticks, area1TickLabels, icArea1);
drawPanel('ic-area2', {left:1411,right:2466,top:135,bottom:790,xMin:xMin,xMax:xMax,yMin:12.338,yMax:18.324}, area2Ticks, area2TickLabels, icArea2);
drawPanel('ic-peak1', {left:2670,right:3724,top:135,bottom:790,xMin:xMin,xMax:xMax,yMin:68.764,yMax:80.789}, peak1Ticks, peak1TickLabels, icPeak1);
drawPanel('ic-peak2', {left:154,right:1207,top:986,bottom:1640,xMin:xMin,xMax:xMax,yMin:54.18,yMax:155.91}, peak2Ticks, peak2TickLabels, icPeak2);
drawPanel('ic-voltage1', {left:1411,right:2466,top:986,bottom:1640,xMin:xMin,xMax:xMax,yMin:3.38666,yMax:3.46913}, volt1Ticks, volt1TickLabels, icVoltage1);
drawPanel('ic-voltage2', {left:2670,right:3724,top:986,bottom:1640,xMin:xMin,xMax:xMax,yMin:3.59449,yMax:3.62466}, volt2Ticks, volt2TickLabels, icVoltage2);

const legendRoot = document.getElementById('legend-markers');
const legendCenters = [225, 676, 1125, 1575];
const legendNames = ['legend-marker-dod-30','legend-marker-dod-50','legend-marker-dod-70','legend-marker-dod-100'];
legendCenters.forEach(function(cx, i){
  const m = markerShape(i, cx, 1916, i === 3 ? 14.5 : 18);
  
  
  m.setAttribute('fill', '#000');
  legendRoot.appendChild(m);
});
</script>
</body>
</html>
